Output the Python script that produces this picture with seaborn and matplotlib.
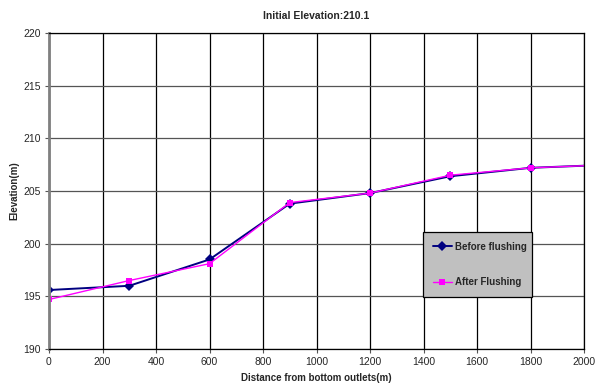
import pandas as pd
import matplotlib
matplotlib.use("Agg")
import matplotlib.pyplot as plt
import seaborn as sns

sns.set_theme(style="white")
plt.rcParams['font.family'] = ['Liberation Sans', 'DejaVu Sans']

distance = [0, 300, 600, 900, 1200, 1500, 1800, 2000]
before_flushing = [195.6, 196.0, 198.5, 203.8, 204.8, 206.4, 207.2, 207.4]
after_flushing = [194.7, 196.5, 198.1, 203.9, 204.8, 206.5, 207.2, 207.4]

df = pd.DataFrame({
    "distance": distance,
    "Before flushing": before_flushing,
    "After Flushing": after_flushing,
})

fig = plt.figure(figsize=(6.0, 3.83), dpi=100)
ax = fig.add_axes([49 / 600, 1 - 349 / 383, 535 / 600, 316 / 383])

sns.lineplot(data=df, x="distance", y="Before flushing", ax=ax, color="#000080",
             marker="D", markersize=5, linewidth=1.4, markeredgewidth=0,
             markevery=list(range(len(distance) - 1)), label="Before flushing")
sns.lineplot(data=df, x="distance", y="After Flushing", ax=ax, color="#ff00ff",
             marker="s", markersize=5, linewidth=1.0, markeredgewidth=0,
             markevery=list(range(len(distance) - 1)), label="After Flushing")

ax.set_xlim(0, 2000)
ax.set_ylim(190, 220)
ax.set_xticks(range(0, 2001, 200))
ax.set_yticks(range(190, 221, 5))
ax.tick_params(axis="both", labelsize=7.5, length=3, width=0.8, color="#555555",
               pad=3, bottom=True, left=True)
ax.grid(True, axis="x", color="#000000", linewidth=0.9)
ax.grid(True, axis="y", color="#555555", linewidth=0.9)
for side in ["top", "right", "bottom"]:
    ax.spines[side].set_color("#000000")
    ax.spines[side].set_linewidth(0.9)
ax.spines["left"].set_color("#808080")
ax.spines["left"].set_linewidth(2)

ax.set_title("Initial Elevation:210.1", fontsize=7.5, fontweight="bold", pad=10)
ax.set_xlabel("Distance from bottom outlets(m)", fontsize=7, fontweight="bold", labelpad=4)
ax.set_ylabel("Elevation(m)", fontsize=7, fontweight="bold", labelpad=3)

leg = ax.legend(loc="lower left", bbox_to_anchor=(0.699, 0.165, 0.204, 0.205),
                mode="expand", fontsize=7, frameon=True, fancybox=False,
                facecolor="#c0c0c0", edgecolor="#000000", framealpha=1,
                labelspacing=2.6, handlelength=2.0, handletextpad=0.25,
                borderaxespad=0, borderpad=1.0)
leg.get_frame().set_linewidth(0.9)
for t in leg.get_texts():
    t.set_fontweight("bold")

fig.savefig("out.png", dpi=100)
